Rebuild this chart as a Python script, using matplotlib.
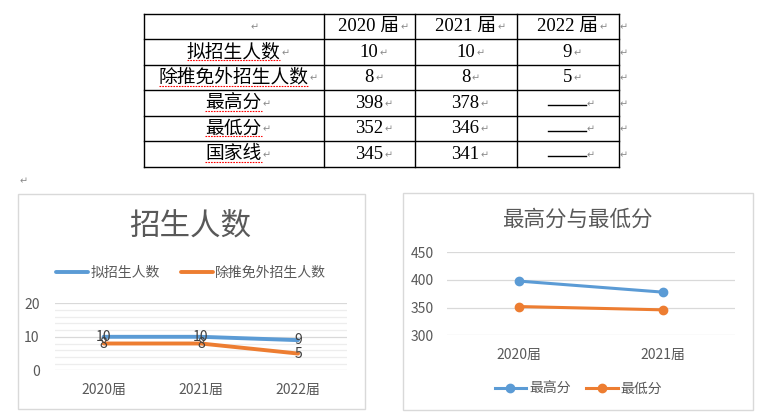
import matplotlib
matplotlib.use('Agg')
import matplotlib.pyplot as plt

plt.rcParams['font.family'] = ['Noto Sans CJK SC', 'DejaVu Sans']

# 数据
years = ['2020届', '2021届', '2022届']
header = ['2020 届', '2021 届', '2022 届']
row_names = ['拟招生人数', '除推免外招生人数', '最高分', '最低分', '国家线']
plan = [10, 10, 9]
plan_ex = [8, 8, 5]
top_score = [398, 378]
low_score = [352, 346]
nat_line = [345, 341]

BLUE = '#5B9BD5'
ORANGE = '#ED7D31'
GRAY = '#595959'

W, H = 766, 415
fig = plt.figure(figsize=(W / 100, H / 100), dpi=100)
ov = fig.add_axes([0, 0, 1, 1])
ov.set_xlim(0, W)
ov.set_ylim(H, 0)
ov.axis('off')


def box(x0, y0, x1, y1):
    return [x0 / W, 1 - y1 / H, (x1 - x0) / W, (y1 - y0) / H]


ret_kw = dict(fontsize=7, color='#8a8a8a', family=['DejaVu Sans'])


def ret_after(t):
    ov.annotate('↵', xy=(1, 0.45), xycoords=t, xytext=(1, 0),
                textcoords='offset points', ha='left', va='center', **ret_kw)


# ---- 表格 ----
col_x = [143.5, 323.5, 414.5, 516.5, 618.5]
row_y = [14, 39.5, 65, 90.5, 116, 141.5, 167]
for x in col_x:
    ov.plot([x, x], [row_y[0], row_y[-1]], color='black', lw=1.0)
for y in row_y:
    ov.plot([col_x[0], col_x[-1]], [y, y], color='black', lw=1.0)

serif = ['Liberation Serif', 'Noto Sans CJK SC']
cx = [(col_x[i] + col_x[i + 1]) / 2 for i in range(4)]
cy = [(row_y[i] + row_y[i + 1]) / 2 for i in range(6)]

ov.text(255, cy[0] + 1, '↵', ha='center', va='center', **ret_kw)
for j, h in enumerate(header):
    t = ov.text(cx[j + 1], cy[0], h, ha='center', va='center', fontsize=13.5, family=serif)
    ret_after(t)

cols = [
    [str(v) for v in plan],
    [str(v) for v in plan_ex],
    [str(v) for v in top_score] + [None],
    [str(v) for v in low_score] + [None],
    [str(v) for v in nat_line] + [None],
]
label_texts = []
for i, name in enumerate(row_names):
    y = cy[i + 1]
    t = ov.text(cx[0], y, name, ha='center', va='center', fontsize=13.5, family=serif)
    ret_after(t)
    label_texts.append(t)
    for j, v in enumerate(cols[i]):
        if v is None:
            ov.plot([547.5, 586], [y + 2, y + 2], color='black', lw=1.0)
            ov.text(587, y + 1, '↵', ha='left', va='center', **ret_kw)
        else:
            t = ov.text(cx[j + 1], y, v, ha='center', va='center', fontsize=13.5, family=serif)
            ret_after(t)
for y in cy:
    ov.text(620, y + 1, '↵', ha='left', va='center', **ret_kw)
ov.text(20, 181, '↵', ha='left', va='center', **ret_kw)

# 图表外框
ov.add_patch(plt.Rectangle((17.5, 194), 347, 215, fill=False, ec='#D9D9D9', lw=1.0))
ov.add_patch(plt.Rectangle((402.5, 192.5), 350, 217.5, fill=False, ec='#D9D9D9', lw=1.0))

# ---- 招生人数 ----
ax1 = fig.add_axes(box(55, 303.3, 346.7, 370.3))
x3 = range(len(years))
ax1.plot(x3, plan, color=BLUE, lw=2.8, label='拟招生人数', solid_capstyle='round')
ax1.plot(x3, plan_ex, color=ORANGE, lw=2.8, label='除推免外招生人数', solid_capstyle='round')
for i in x3:
    ax1.text(i, plan[i], str(plan[i]), ha='center', va='center', fontsize=10, color='#404040')
    ax1.text(i, plan_ex[i], str(plan_ex[i]), ha='center', va='center', fontsize=10, color='#404040')
ax1.set_xlim(-0.5, 2.5)
ax1.set_ylim(0, 20)
ax1.set_yticks([0, 10, 20])
ax1.set_yticks(range(0, 21, 2), minor=True)
ax1.set_xticks(list(x3))
ax1.set_xticklabels(years)
ax1.grid(True, which='major', axis='y', color='#D9D9D9', lw=0.9)
ax1.grid(True, which='minor', axis='y', color='#EDEDED', lw=0.9)
ax1.set_axisbelow(True)
ax1.tick_params(axis='y', which='both', length=0, pad=11, labelsize=10, labelcolor=GRAY)
ax1.tick_params(axis='x', length=0, pad=9, labelsize=10, labelcolor=GRAY)
for s in ax1.spines.values():
    s.set_visible(False)
ov.text(190.5, 226, '招生人数', ha='center', va='center', fontsize=22, color=GRAY)
ax1.legend(loc='center', bbox_to_anchor=(191, 272.7), bbox_transform=ov.transData,
           ncol=2, frameon=False, fontsize=10, handlelength=2.3, handletextpad=0.2,
           columnspacing=1.5, borderpad=0, labelcolor=GRAY)

# ---- 最高分与最低分 ----
ax2 = fig.add_axes(box(446.7, 252.3, 735, 335.3))
x2 = range(len(top_score))
ax2.plot(x2, top_score, color=BLUE, lw=2.2, marker='o', ms=6, label='最高分')
ax2.plot(x2, low_score, color=ORANGE, lw=2.2, marker='o', ms=6, label='最低分')
ax2.set_xlim(-0.5, 1.5)
ax2.set_ylim(300, 450)
ax2.set_yticks([300, 350, 400, 450])
ax2.set_xticks(list(x2))
ax2.set_xticklabels(years[:2])
ax2.grid(True, axis='y', color='#D9D9D9', lw=0.9)
ax2.set_axisbelow(True)
ax2.tick_params(axis='y', length=0, pad=9, labelsize=10, labelcolor=GRAY)
ax2.tick_params(axis='x', length=0, pad=9, labelsize=10, labelcolor=GRAY)
for s in ax2.spines.values():
    s.set_visible(False)
ov.text(577, 220, '最高分与最低分', ha='center', va='center', fontsize=15.5, color=GRAY)
ax2.legend(loc='center', bbox_to_anchor=(578.5, 389), bbox_transform=ov.transData,
           ncol=2, frameon=False, fontsize=10, handlelength=2.3, handletextpad=0.2,
           columnspacing=1.1, borderpad=0, labelcolor=GRAY)

# 拼写检查的红色下划线
fig.canvas.draw()
r = fig.canvas.get_renderer()
inv = ov.transData.inverted()
for t in label_texts:
    bb = t.get_window_extent(r)
    (x0, y0), (x1, y1) = inv.transform([(bb.x0, bb.y0), (bb.x1, bb.y1)])
    ov.plot([x0, x1], [y0 - 1, y0 - 1], color='red', lw=0.8, ls=(0, (1.5, 1)))

fig.savefig('out.png', dpi=100)
